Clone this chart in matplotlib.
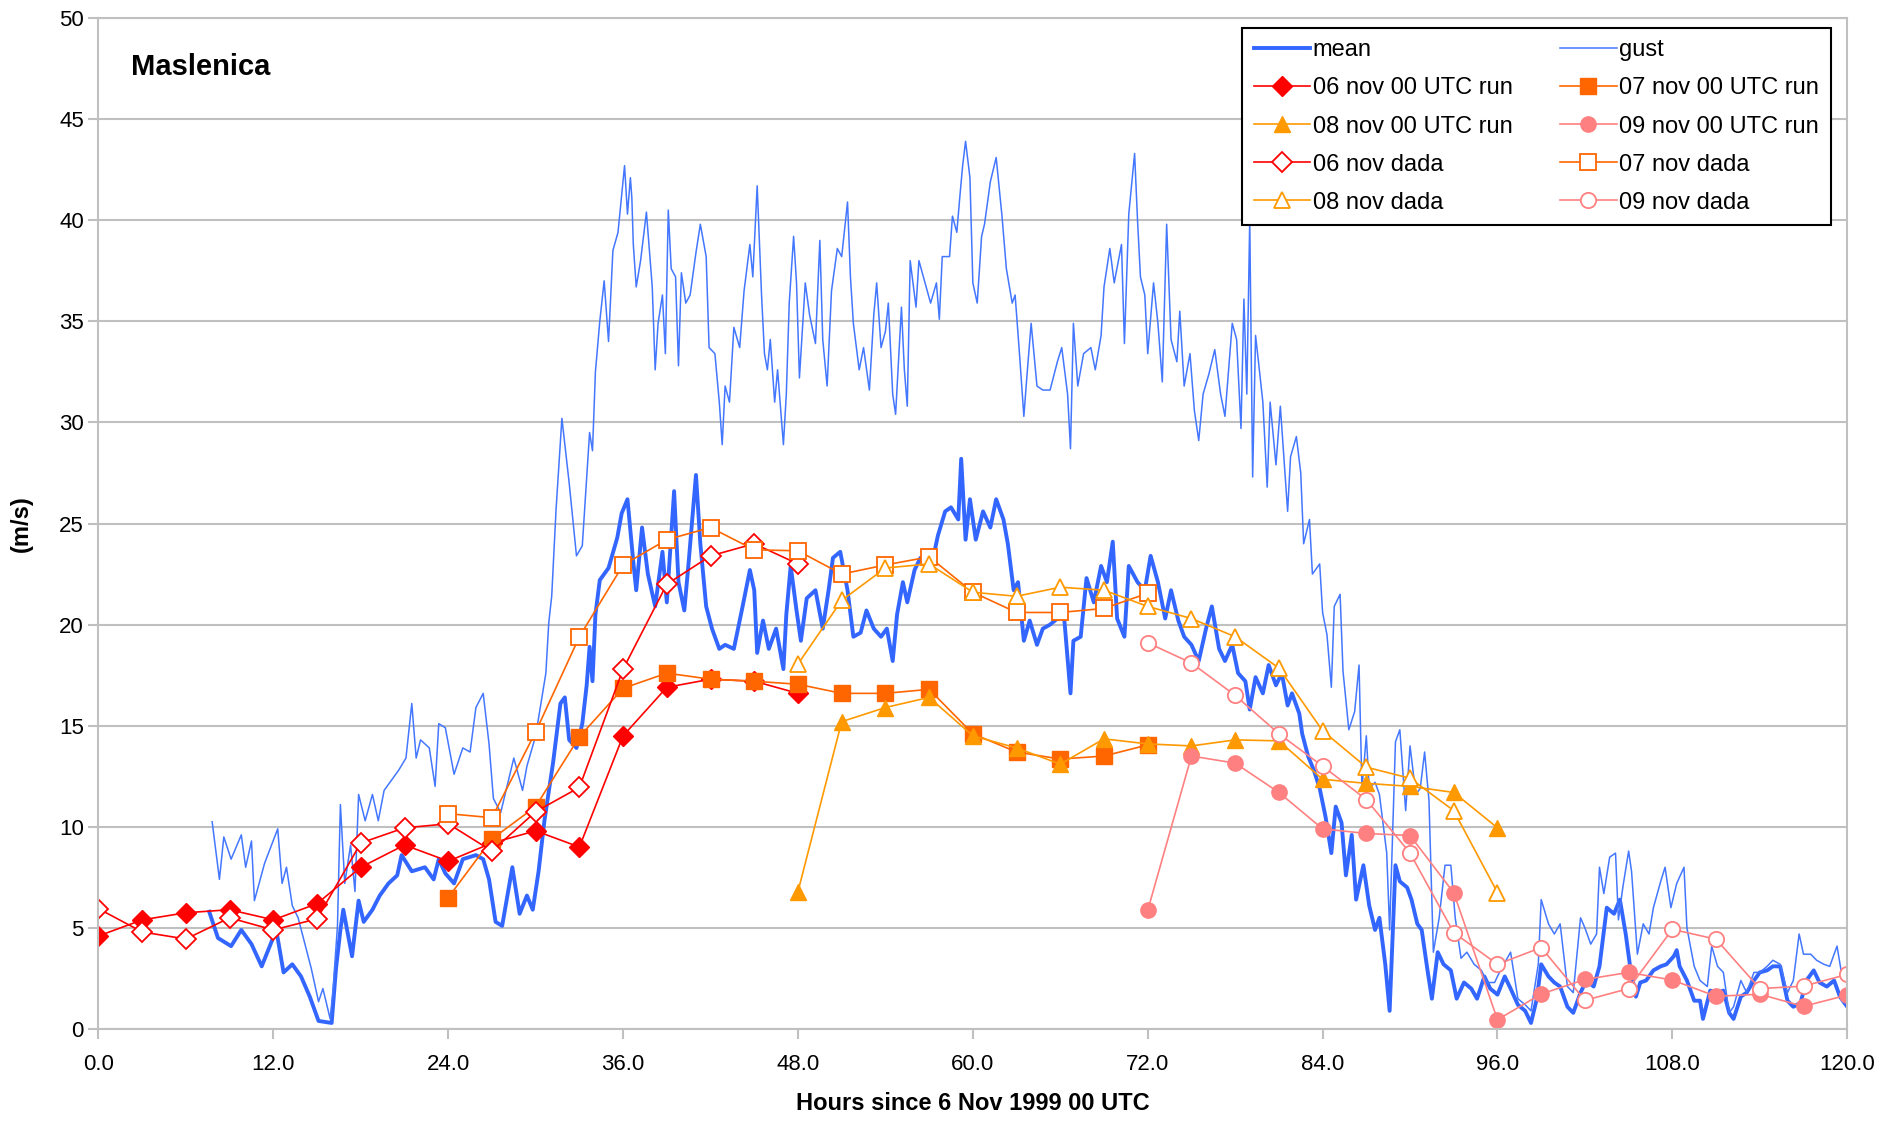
import matplotlib
matplotlib.use('Agg')
import matplotlib.pyplot as plt
import numpy as np

plt.rcParams['font.family'] = ['Liberation Sans', 'DejaVu Sans']

gust_h = [7.8, 8.3, 8.6, 9.1, 9.8, 10.1, 10.5, 10.7, 11.4, 12.3, 12.6, 12.9, 13.3, 13.7, 14.2, 14.6, 15.1, 15.4,
          15.9, 16.1, 16.4, 16.6, 16.9, 17.3, 17.6, 17.85, 18.3, 18.8, 19.2, 19.6, 20.0, 20.6, 21.1, 21.5, 21.8,
          22.1, 22.7, 23.1, 23.35, 23.8, 24.4, 25.0, 25.5, 25.9, 26.4, 26.8, 27.1, 27.6, 28.5, 29.1, 29.4, 30.0,
          30.7, 30.9, 31.1, 31.4, 31.8, 32.3, 32.8, 33.2, 33.7, 33.9, 34.1, 34.4, 34.7, 35.0, 35.3,
          35.65, 36.1, 36.3, 36.5, 36.6, 36.7, 36.9, 37.2, 37.6, 38.0, 38.2, 38.4, 38.7, 38.9, 39.1, 39.3, 39.6,
          39.8, 40.0, 40.3, 40.6, 41.0, 41.3, 41.7, 41.9, 42.3, 42.6, 42.8, 43.0, 43.3, 43.6, 44.0, 44.3, 44.7,
          44.9, 45.2, 45.5, 45.7, 45.9, 46.1, 46.4, 46.6, 47.0, 47.2, 47.4, 47.7, 47.9, 48.1, 48.5, 48.8, 49.2,
          49.5, 49.7, 50.0, 50.3, 50.7, 51.0, 51.4, 51.6, 51.8, 52.2, 52.5, 52.9, 53.2, 53.4, 53.7, 54.0, 54.2,
          54.5, 54.7, 55.1, 55.3, 55.5, 55.7, 56.1, 56.3, 56.8, 57.1, 57.5, 57.7, 57.9, 58.4, 58.6, 58.9, 59.1,
          59.3, 59.5, 59.8,
          60.0, 60.3, 60.6, 60.8, 61.2, 61.6, 62.0, 62.3, 62.7, 62.9, 63.2, 63.5, 63.7, 64.0, 64.4, 64.8, 65.3,
          65.8, 66.1, 66.5, 66.7, 66.9, 67.2, 67.6, 68.1, 68.4, 68.8, 69.0, 69.4, 69.7, 70.2, 70.4, 70.7, 71.1,
          71.3, 71.5, 71.8, 72.0, 72.4, 72.7, 73.0, 73.3, 73.6, 74.0, 74.2, 74.5, 74.9, 75.2, 75.5, 75.8, 76.2,
          76.6, 77.0, 77.3, 77.8, 78.1, 78.4, 78.6, 78.8, 79.0, 79.2, 79.4, 79.6, 79.9, 80.2, 80.4, 80.8, 81.1,
          81.6, 81.8, 82.2, 82.5, 82.7, 83.1, 83.3, 83.8,
          84.0, 84.3, 84.6, 84.8, 85.2, 85.4, 85.8, 86.2, 86.5, 86.7, 87.0, 87.2, 87.6, 87.9, 88.4, 88.6, 89.0,
          89.3, 89.7, 90.0, 90.4, 90.7, 91.0, 91.3, 91.6, 92.0, 92.4, 92.8, 93.1, 93.5, 93.9, 94.4, 94.9, 95.3,
          95.8, 96.2, 96.9, 97.4, 97.9, 98.3, 98.8, 99.0, 99.5, 99.9,
          100.3, 100.8, 101.2, 101.7, 102.0, 102.4, 102.8, 103.0, 103.3, 103.7, 104.1, 104.3, 104.6, 105.0,
          105.2, 105.6, 106.0, 106.4, 106.7, 107.2, 107.5, 107.9, 108.3, 108.8, 109.0, 109.5, 109.9, 110.4,
          110.7, 111.1, 111.5, 111.9, 112.2, 112.7, 113.1, 113.6, 114.0, 114.5, 114.9, 115.4, 115.9, 116.3,
          116.7, 117.0, 117.5, 117.9, 118.4, 118.8, 119.3, 119.6, 120.0]
gust_v = [10.25, 7.4, 9.5, 8.4, 9.6, 8.0, 9.3, 6.35, 8.2, 9.9, 7.2, 8.0, 6.1, 5.5, 4.1, 3.0, 1.35, 2.0,
          0.5, 2.0, 5.1, 11.1, 7.2, 9.1, 6.8, 11.6, 10.3, 11.6, 10.3, 11.8, 12.2, 12.8, 13.4, 16.1, 13.4,
          14.3, 13.9, 12.0, 15.1, 14.9, 12.6, 13.9, 13.7, 15.9, 16.6, 14.1, 11.4, 10.7, 13.4, 11.8, 13.0, 14.5,
          17.6, 20.1, 21.4, 25.7, 30.2, 27.0, 23.4, 23.9, 29.5, 28.6, 32.5, 35.0, 37.0, 34.0, 38.5,
          39.4, 42.7, 40.3, 42.1, 41.1, 38.8, 36.7, 38.0, 40.4, 36.7, 32.6, 34.9, 36.3, 33.4, 40.5, 37.6, 37.2,
          32.8, 37.4, 35.9, 36.3, 38.4, 39.8, 38.2, 33.7, 33.4, 31.0, 28.9, 31.8, 31.0, 34.7, 33.7, 36.5, 38.8,
          37.2, 41.7, 36.3, 33.4, 32.6, 34.1, 31.0, 32.6, 28.9, 31.4, 35.9, 39.2, 36.9, 32.2, 36.9, 35.3, 33.9,
          39.0, 34.1, 31.8, 36.5, 38.6, 38.2, 40.9, 37.2, 34.9, 32.6, 33.7, 31.6, 35.3, 36.9, 33.7, 34.5, 35.9,
          31.4, 30.4, 35.7, 32.6, 30.8, 38.0, 35.7, 38.0, 36.7, 35.9, 36.9, 35.1, 38.2, 38.2, 40.2, 39.4, 41.1,
          42.7, 43.9, 42.1,
          36.9, 35.9, 39.2, 39.8, 41.9, 43.1, 40.2, 37.6, 35.9, 36.3, 33.4, 30.3, 32.2, 34.9, 31.8, 31.6, 31.6,
          33.0, 33.7, 31.4, 28.7, 34.9, 31.8, 33.4, 33.7, 32.6, 34.3, 36.7, 38.6, 36.9, 38.8, 33.9, 40.3, 43.3,
          40.0, 37.2, 36.3, 33.4, 36.9, 34.9, 32.0, 39.8, 34.1, 33.0, 35.5, 31.8, 33.4, 30.6, 29.1, 31.4, 32.4,
          33.6, 31.4, 30.3, 34.9, 34.1, 29.7, 36.1, 31.4, 40.0, 27.3, 34.3, 33.0, 31.0, 26.8, 31.0, 27.9, 30.8,
          25.6, 28.3, 29.3, 27.5, 24.0, 25.2, 22.5, 23.0,
          20.6, 19.5, 16.9, 20.9, 21.5, 17.7, 14.8, 15.7, 18.0, 11.9, 14.5, 11.9, 12.2, 11.6, 8.7, 4.9, 14.2,
          14.8, 10.8, 14.0, 11.6, 11.9, 13.7, 11.3, 3.8, 5.5, 8.1, 8.1, 5.5, 3.5, 3.8, 3.2, 2.9, 2.3,
          2.3, 2.9, 3.8, 1.5, 1.2, 0.9, 3.2, 6.4, 5.2, 4.7,
          5.2, 2.1, 1.8, 5.5, 5.0, 4.2, 4.7, 8.0, 6.7, 8.5, 8.7, 5.4, 7.0, 8.8,
          7.8, 3.7, 5.2, 4.7, 6.0, 7.3, 8.0, 6.0, 7.2, 8.0, 5.0, 3.1, 2.4, 2.1,
          4.1, 3.1, 2.8, 0.8, 1.1, 2.4, 1.8, 2.8, 2.8, 3.1, 3.4, 3.2, 1.8, 2.4,
          4.7, 3.7, 3.7, 3.4, 3.2, 3.1, 4.1, 2.8, 2.4]

mean_h = [7.6, 8.2, 9.1, 9.8, 10.5, 11.2, 12.2, 12.7, 13.3, 13.9, 14.5, 15.1, 16.0, 16.3, 16.6, 16.8, 17.4,
          17.85, 18.2, 18.8, 19.3, 19.9, 20.5, 20.8, 21.5, 22.4, 23.0, 23.35, 23.8, 24.4, 25.0, 25.9, 26.4,
          26.8, 27.25, 27.7, 28.4, 28.9, 29.4, 29.8, 30.2, 30.6, 31.2, 31.7, 32.0, 32.3, 32.8, 33.2, 33.5,
          33.7, 33.9, 34.1, 34.4, 35.0, 35.6, 35.9, 36.3,
          36.7, 36.9, 37.3, 37.7, 38.2, 38.7, 39.0, 39.5, 39.8, 40.2, 40.5, 41.0, 41.3, 41.7, 42.1, 42.6, 43.0,
          43.6, 44.2, 44.7, 45.0, 45.2, 45.6, 46.0, 46.5, 47.0, 47.2, 47.5, 47.9, 48.2, 48.6, 49.2, 49.7, 50.1,
          50.4, 50.9, 51.4, 51.8, 52.3, 52.7, 53.2, 53.7, 54.1, 54.5, 54.8, 55.2, 55.5, 56.0, 56.4, 57.1, 57.6,
          58.1, 58.5, 59.0, 59.2, 59.5, 59.8,
          60.2, 60.7, 61.2, 61.6, 62.1, 62.4, 62.8, 63.1, 63.5, 63.9, 64.4, 64.8, 65.3, 65.8, 66.2, 66.7, 66.9,
          67.4, 67.8, 68.3, 68.8, 69.2, 69.6, 69.9, 70.4, 70.7, 71.3, 71.8, 72.2, 72.7, 73.2, 73.6, 74.1, 74.5,
          75.0, 75.5, 76.0, 76.4, 76.9, 77.3, 77.8, 78.2, 78.7, 79.0, 79.4, 79.9, 80.3, 80.8, 81.2, 81.6, 81.9,
          82.4, 82.6, 83.0, 83.4,
          83.8, 84.2, 84.6, 84.9, 85.3, 85.6, 86.0, 86.3, 86.8, 87.2, 87.6, 87.9, 88.3, 88.6, 89.0, 89.3, 89.8,
          90.1, 90.5, 90.8, 91.2, 91.5, 91.9, 92.3, 92.8, 93.2, 93.7, 94.2, 94.6, 95.1, 95.5, 96.0, 96.5, 96.9,
          97.4, 97.9, 98.3, 98.7, 99.0, 99.5, 99.9,
          100.3, 100.8, 101.2, 101.7, 102.1, 102.6, 103.0, 103.5, 104.0, 104.4, 104.8, 105.1, 105.5, 105.8,
          106.2, 106.7, 107.2, 107.6, 108.1, 108.3, 108.5, 109.0, 109.5, 109.9, 110.1, 110.6, 111.1, 111.5,
          111.9, 112.2, 112.7, 113.1, 113.6, 114.0, 114.5, 114.9, 115.4, 115.9, 116.3, 116.8, 117.2, 117.7,
          118.1, 118.6, 119.1, 119.5, 120.0]
mean_v = [5.8, 4.5, 4.1, 4.9, 4.2, 3.1, 4.9, 2.8, 3.2, 2.6, 1.6, 0.4, 0.3, 3.0, 4.9, 5.9, 3.6,
          6.35, 5.3, 5.9, 6.6, 7.2, 7.6, 8.6, 7.8, 8.0, 7.4, 8.4, 7.7, 7.2, 8.4, 8.6, 8.4,
          7.4, 5.3, 5.1, 8.0, 5.7, 6.6, 5.9, 7.8, 10.3, 13.2, 16.1, 16.4, 14.3, 13.9, 15.1, 17.0,
          18.9, 17.2, 20.5, 22.2, 22.8, 24.3, 25.5, 26.2,
          23.1, 21.7, 24.8, 22.5, 20.9, 23.6, 21.1, 26.6, 22.1, 20.7, 23.1, 27.4, 24.0, 20.9, 19.8, 18.8, 19.0,
          18.8, 20.9, 22.7, 21.7, 18.6, 20.2, 18.8, 19.8, 17.8, 20.5, 22.9, 20.7, 19.2, 21.3, 21.7, 19.8, 21.7,
          23.3, 23.6, 21.7, 19.4, 19.6, 20.7, 19.8, 19.4, 19.8, 18.2, 20.5, 22.1, 21.1, 22.7, 23.3, 22.7, 24.4,
          25.6, 25.8, 25.2, 28.2, 24.2, 26.2,
          24.2, 25.6, 24.8, 26.2, 25.2, 24.0, 21.7, 22.1, 19.2, 20.2, 19.0, 19.8, 20.0, 20.3, 20.9, 16.6, 19.2,
          19.4, 22.3, 21.1, 22.9, 22.1, 24.1, 20.3, 19.4, 22.9, 22.1, 21.7, 23.4, 22.1, 20.3, 21.7, 20.2, 19.4,
          19.0, 18.2, 19.8, 20.9, 18.8, 18.2, 19.0, 17.6, 17.2, 15.8, 17.4, 16.6, 18.0, 17.0, 17.6, 16.0, 16.6,
          15.6, 14.6, 13.5, 12.8,
          11.9, 10.5, 8.7, 11.0, 10.2, 7.6, 9.6, 6.4, 8.1, 6.1, 4.9, 5.5, 3.2, 0.9, 8.1, 7.3, 7.0,
          6.4, 5.2, 4.9, 2.9, 1.5, 3.8, 3.2, 2.9, 1.5, 2.3, 2.0, 1.5, 2.6, 2.0, 1.7, 2.6, 2.0,
          1.2, 0.9, 0.3, 1.5, 3.2, 2.6, 2.3,
          2.1, 1.1, 0.8, 1.8, 2.4, 2.1, 3.1, 6.0, 5.7, 6.4, 4.7, 3.1, 1.6, 2.3,
          2.4, 2.9, 3.1, 3.2, 3.6, 3.9, 3.1, 2.4, 1.4, 1.4, 0.5, 1.9, 1.8, 1.9,
          0.8, 0.5, 1.6, 1.8, 2.4, 2.8, 2.9, 3.1, 3.1, 1.4, 1.1, 1.3, 2.4, 2.9,
          2.3, 2.1, 2.4, 1.6, 1.1]

# model forecasts, one value every 3 hours
run06_h = np.arange(0, 49, 3)
run06 = [4.6, 5.4, 5.75, 5.9, 5.4, 6.2, 8.0, 9.1, 8.3, 9.2, 9.8, 9.0, 14.5, 16.9, 17.3, 17.2, 16.6]
dada06 = [5.95, 4.8, 4.45, 5.5, 4.9, 5.45, 9.2, 9.95, 10.15, 8.8, 10.75, 11.95, 17.8, 22.0, 23.4, 24.0, 23.0]

run07_h = np.arange(24, 73, 3)
run07 = [6.5, 9.4, 11.0, 14.45, 16.85, 17.6, 17.3, 17.2, 17.05, 16.6, 16.6, 16.8, 14.6, 13.7, 13.35, 13.5, 14.05]
dada07 = [10.65, 10.45, 14.7, 19.4, 22.95, 24.2, 24.8, 23.7, 23.65, 22.5, 22.95, 23.35, 21.6, 20.6, 20.6, 20.8, 21.55]

run08_h = np.arange(48, 97, 3)
run08 = [6.8, 15.2, 15.9, 16.4, 14.5, 13.9, 13.1, 14.35, 14.1, 14.0, 14.3, 14.25, 12.35, 12.15, 12.0, 11.7, 9.95]
dada08 = [18.05, 21.2, 22.8, 23.0, 21.6, 21.4, 21.85, 21.7, 20.9, 20.3, 19.4, 17.85, 14.75, 12.95, 12.4, 10.8, 6.75]

run09_h = np.arange(72, 121, 3)
run09 = [5.87, 13.5, 13.15, 11.7, 9.9, 9.67, 9.57, 6.74, 0.46, 1.73, 2.45, 2.8, 2.42, 1.62, 1.72, 1.12, 1.68]
dada09 = [19.1, 18.1, 16.5, 14.6, 13.0, 11.35, 8.7, 4.77, 3.2, 4.03, 1.42, 2.0, 4.93, 4.44, 2.0, 2.12, 2.7]

red = '#ff0000'
orange = '#ff6600'
amber = '#ff9900'
salmon = '#ff8080'

fig = plt.figure(figsize=(18.83, 11.24), dpi=100)
ax = fig.add_axes([0.0523, 0.0845, 0.9287, 0.8995])

l_mean, = ax.plot(mean_h, mean_v, color='#3366ff', lw=2.8, label='mean')
l_gust, = ax.plot(gust_h, gust_v, color='#4477ff', lw=1.1, label='gust')

ms = 11
r06, = ax.plot(run06_h, run06, color=red, lw=1.2, marker='D', ms=ms - 1, mfc=red, mec=red, label='06 nov 00 UTC run')
r07, = ax.plot(run07_h, run07, color=orange, lw=1.2, marker='s', ms=ms, mfc=orange, mec=orange, label='07 nov 00 UTC run')
r08, = ax.plot(run08_h, run08, color=amber, lw=1.2, marker='^', ms=ms + 1, mfc=amber, mec=amber, label='08 nov 00 UTC run')
r09, = ax.plot(run09_h, run09, color=salmon, lw=1.2, marker='o', ms=ms, mfc=salmon, mec=salmon, label='09 nov 00 UTC run')
d06, = ax.plot(run06_h, dada06, color=red, lw=1.2, marker='D', ms=ms - 1, mfc='white', mec=red, mew=1.3, label='06 nov dada')
d07, = ax.plot(run07_h, dada07, color=orange, lw=1.2, marker='s', ms=ms, mfc='white', mec=orange, mew=1.3, label='07 nov dada')
d08, = ax.plot(run08_h, dada08, color=amber, lw=1.2, marker='^', ms=ms + 1, mfc='white', mec=amber, mew=1.3, label='08 nov dada')
d09, = ax.plot(run09_h, dada09, color=salmon, lw=1.2, marker='o', ms=ms, mfc='white', mec=salmon, mew=1.3, label='09 nov dada')

ax.set_xlim(0, 120)
ax.set_ylim(0, 50)
ax.set_xticks(np.arange(0, 121, 12))
ax.set_xticklabels(['%.1f' % t for t in np.arange(0, 121, 12)])
ax.set_yticks(np.arange(0, 51, 5))
ax.grid(axis='y', color='#c0c0c0', lw=1.5)
ax.set_axisbelow(True)
for s in ax.spines.values():
    s.set_color('#c0c0c0')
    s.set_linewidth(1.5)
ax.tick_params(colors='#c0c0c0', labelcolor='black', labelsize=16, length=7, width=1.5)
ax.tick_params(axis='x', pad=11)

ax.set_xlabel('Hours since 6 Nov 1999 00 UTC', fontsize=17, fontweight='bold', labelpad=12)
ax.set_ylabel('(m/s)', fontsize=17, fontweight='bold', labelpad=19)
ax.text(2.2, 47.6, 'Maslenica', fontsize=21, fontweight='bold', va='center')

handles = [l_mean, r06, r08, d06, d08, l_gust, r07, r09, d07, d09]
leg = ax.legend(handles=handles, ncol=2, loc='upper right', bbox_to_anchor=(0.9905, 0.9905),
                fontsize=17, frameon=True, fancybox=False, edgecolor='black', framealpha=1,
                handlelength=2.4, handletextpad=0.1, columnspacing=2.0, labelspacing=0.68,
                borderpad=0.5, borderaxespad=0)
leg.get_frame().set_linewidth(1.5)

fig.savefig('out.png', dpi=100)
